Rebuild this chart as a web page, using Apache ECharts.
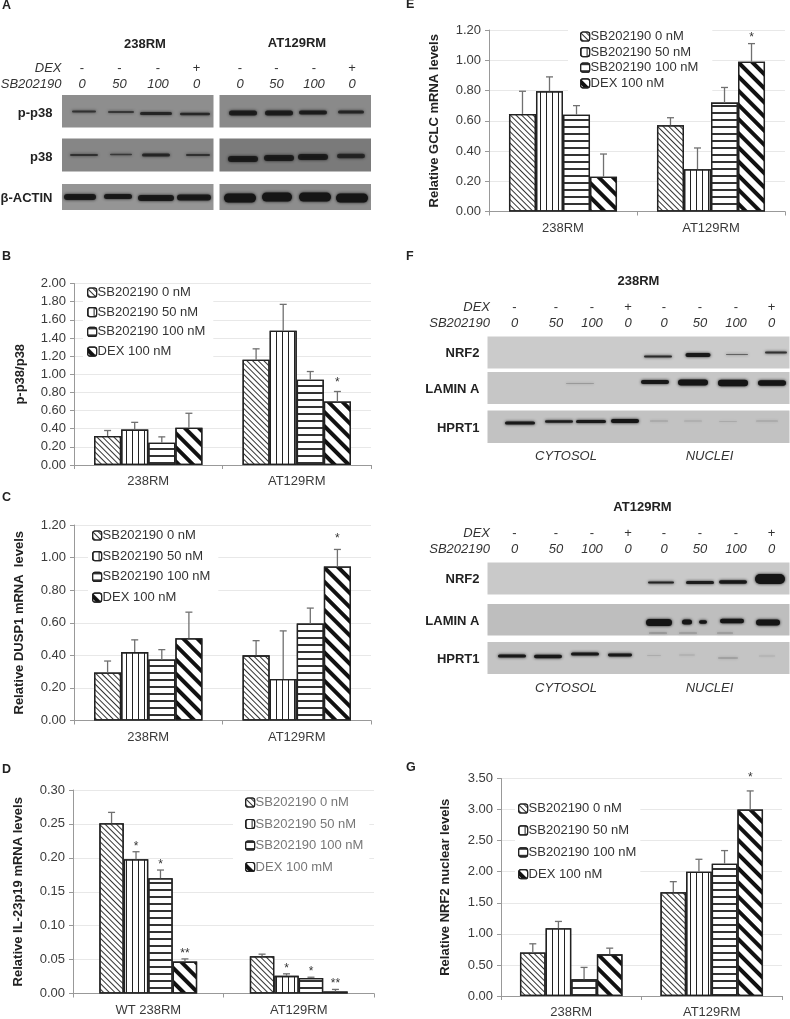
<!DOCTYPE html>
<html><head><meta charset="utf-8">
<style>html,body{margin:0;padding:0;background:#fff}#c{width:790px;height:1019px}</style>
<script src="https://cdn.jsdelivr.net/npm/echarts@6/dist/echarts.min.js"></script>
</head><body><div id="c"></div>
<script>
// ---------- data ----------
const seriesNames = ['SB202190 0 nM','SB202190 50 nM','SB202190 100 nM','DEX 100 nM'];
const seriesNamesD = ['SB202190 0 nM','SB202190 50 nM','SB202190 100 nM','DEX 100 mM'];
const groups = ['238RM','AT129RM'];
const groupsD = ['WT 238RM','AT129RM'];

const pp38Sb0 = [0.32,1.16], pp38Sb50 = [0.39,1.48], pp38Sb100 = [0.245,0.94], pp38Dex = [0.41,0.70];
const pp38Sb0Top = [0.38,1.28], pp38Sb50Top = [0.47,1.77], pp38Sb100Top = [0.31,1.03], pp38DexTop = [0.57,0.81];

const duspSb0 = [0.295,0.40], duspSb50 = [0.42,0.255], duspSb100 = [0.375,0.595], duspDex = [0.505,0.945];
const duspSb0Top = [0.365,0.49], duspSb50Top = [0.495,0.55], duspSb100Top = [0.435,0.69], duspDexTop = [0.665,1.05];

const il23Sb0 = [0.251,0.055], il23Sb50 = [0.198,0.026], il23Sb100 = [0.170,0.023], il23Dex = [0.047,0.003];
const il23Sb0Top = [0.267,0.058], il23Sb50Top = [0.209,0.029], il23Sb100Top = [0.182,0.024], il23DexTop = [0.051,0.006];

const gclcSb0 = [0.645,0.57], gclcSb50 = [0.795,0.28], gclcSb100 = [0.64,0.72], gclcDex = [0.23,0.99];
const gclcSb0Top = [0.795,0.62], gclcSb50Top = [0.89,0.42], gclcSb100Top = [0.70,0.82], gclcDexTop = [0.38,1.11];

const nrf2Sb0 = [0.70,1.67], nrf2Sb50 = [1.09,2.00], nrf2Sb100 = [0.27,2.13], nrf2Dex = [0.67,3.00];
const nrf2Sb0Top = [0.84,1.84], nrf2Sb50Top = [1.20,2.20], nrf2Sb100Top = [0.46,2.34], nrf2DexTop = [0.77,3.30];

const starsB = [['','','',''],['','','','*']];
const starsC = [['','','',''],['','','','*']];
const starsD = [['','*','*','**'],['','*','*','**']];
const starsE = [['','','',''],['','','','*']];
const starsG = [['','','',''],['','','','*']];

const dexRow = ['-','-','-','+','-','-','-','+'];
const sbRow = ['0','50','100','0','0','50','100','0'];

// ---------- styling helpers ----------
const FONT = '"Liberation Sans", Arial, sans-serif';
const decals = [
  {symbol:'rect',symbolSize:1,dashArrayX:[1,0],dashArrayY:[1,3],rotation:Math.PI/4,color:'#333'},
  {symbol:'rect',symbolSize:1,dashArrayX:[1,5],dashArrayY:[1,0],color:'#222'},
  {symbol:'rect',symbolSize:1,dashArrayX:[1,0],dashArrayY:[2,5],color:'#333'},
  {symbol:'rect',symbolSize:1,dashArrayX:[1,0],dashArrayY:[4,6],rotation:Math.PI/4,color:'#111'}
];

const panels = [
 {grid:{left:74,top:283.5,width:297,height:181.5},max:2,interval:0.2,gap:'27%',gapN:0.27,name:'p-p38/p38',nameGap:47,
  cats:groups,names:seriesNames,vals:[pp38Sb0,pp38Sb50,pp38Sb100,pp38Dex],tops:[pp38Sb0Top,pp38Sb50Top,pp38Sb100Top,pp38DexTop],
  stars:starsB,starOff:9,legend:{left:83,top:284,gap:6.7,pad:[2,8,2,4]},legendColor:'#333'},
 {grid:{left:74,top:525,width:297,height:195.5},max:1.2,interval:0.2,gap:'27%',gapN:0.27,name:'Relative DUSP1 mRNA  levels',nameGap:48,
  cats:groups,names:seriesNames,vals:[duspSb0,duspSb50,duspSb100,duspDex],tops:[duspSb0Top,duspSb50Top,duspSb100Top,duspDexTop],
  stars:starsC,starOff:11,legend:{left:88,top:527,gap:7.7,pad:[2,8,6,4]},legendColor:'#333'},
 {grid:{left:73,top:790,width:301,height:203.5},max:0.3,interval:0.05,gap:'35%',gapN:0.35,name:'Relative IL-23p19 mRNA levels',nameGap:48.5,
  cats:groupsD,names:seriesNamesD,vals:[il23Sb0,il23Sb50,il23Sb100,il23Dex],tops:[il23Sb0Top,il23Sb50Top,il23Sb100Top,il23DexTop],
  stars:starsD,starOff:5.5,legend:{left:233,top:794,gap:8.5,pad:[2,6,4,12]},legendColor:'#777'},
 {grid:{left:489,top:30,width:296,height:181.5},max:1.2,interval:0.2,gap:'27%',gapN:0.27,name:'Relative GCLC mRNA levels',nameGap:48,
  cats:groups,names:seriesNames,vals:[gclcSb0,gclcSb50,gclcSb100,gclcDex],tops:[gclcSb0Top,gclcSb50Top,gclcSb100Top,gclcDexTop],
  stars:starsE,starOff:6,legend:{left:568,top:28,gap:2.6,pad:[2,14,4,12]},legendColor:'#333'},
 {grid:{left:501,top:778.5,width:281,height:220},max:3.5,interval:0.5,gap:'27%',gapN:0.27,name:'Relative NRF2 nuclear levels',nameGap:49,
  cats:groups,names:seriesNames,vals:[nrf2Sb0,nrf2Sb50,nrf2Sb100,nrf2Dex],tops:[nrf2Sb0Top,nrf2Sb50Top,nrf2Sb100Top,nrf2DexTop],
  stars:starsG,starOff:13,legend:{left:515,top:800,gap:8.9,pad:[2,4,6,3]},legendColor:'#333'}
];

const option = {animation:false,backgroundColor:'#fff',textStyle:{fontFamily:FONT},
  grid:[],xAxis:[],yAxis:[],series:[],legend:[],graphic:{elements:[]}};

panels.forEach((p,pi)=>{
  option.grid.push(Object.assign({containLabel:false},p.grid));
  option.xAxis.push({type:'category',gridIndex:pi,data:p.cats,
    axisLine:{lineStyle:{color:'#999',width:1}},axisTick:{show:true,length:4,alignWithLabel:false,lineStyle:{color:'#999'}},
    axisLabel:{color:'#3a3a3a',fontSize:13,margin:10,fontFamily:FONT},splitLine:{show:false}});
  option.yAxis.push({type:'value',gridIndex:pi,min:0,max:p.max,interval:p.interval,
    name:p.name,nameLocation:'middle',nameGap:p.nameGap,nameRotate:90,
    nameTextStyle:{color:'#222',fontWeight:'bold',fontSize:13,fontFamily:FONT},
    axisLine:{show:true,lineStyle:{color:'#999'}},axisTick:{show:true,length:4,lineStyle:{color:'#999'}},
    axisLabel:{color:'#3a3a3a',fontSize:13,margin:8,fontFamily:FONT,formatter:v=>v.toFixed(2)},
    splitLine:{show:true,lineStyle:{color:'#e8e8e8',width:1}}});
  p.vals.forEach((vals,s)=>{
    option.series.push({type:'bar',name:p.names[s],xAxisIndex:pi,yAxisIndex:pi,data:vals,barGap:0,barCategoryGap:p.gap,
      z:3,itemStyle:{color:'#fff',borderColor:'#222',borderWidth:1.3,decal:decals[s]},emphasis:{disabled:true}});
  });
  const errData=[];
  p.vals.forEach((vals,s)=>vals.forEach((v,c)=>errData.push([c,s,v,p.tops[s][c],p.stars[c][s]])));
  option.series.push({type:'custom',xAxisIndex:pi,yAxisIndex:pi,z:4,silent:true,clip:false,data:errData,
    encode:{x:0,y:3},
    renderItem:(params,api)=>{
      const c=api.value(0),s=api.value(1),v=api.value(2),t=api.value(3);
      const star=errData[params.dataIndex][4];
      const band=api.size([1,0])[0];
      const bw=band*(1-p.gapN)/4;
      const x=api.coord([c,0])[0]+(s-1.5)*bw;
      const y0=api.coord([c,v])[1],y1=api.coord([c,t])[1];
      const st={stroke:'#707070',lineWidth:1.3};
      const kids=[
        {type:'line',shape:{x1:x,y1:y0,x2:x,y2:y1},style:st},
        {type:'line',shape:{x1:x-3.5,y1:y1,x2:x+3.5,y2:y1},style:st}];
      if(star) kids.push({type:'text',style:{text:star,x:x,y:y1-p.starOff,textAlign:'center',textVerticalAlign:'middle',font:'12px '+FONT,fill:'#333'}});
      return {type:'group',children:kids};
    }});
  option.legend.push({orient:'vertical',left:p.legend.left,top:p.legend.top,padding:p.legend.pad,itemGap:p.legend.gap,
    itemWidth:9,itemHeight:9,backgroundColor:'#fff',data:p.names,selectedMode:false,z:5,
    textStyle:{color:p.legendColor,fontSize:13,fontFamily:FONT,padding:[0,0,0,-4]},
    itemStyle:{borderColor:'#222',borderWidth:1.2}});
});

// ---------- blots and text (image panels of the figure) ----------
const G = option.graphic.elements;
function rect(x,y,w,h,fill){G.push({type:'rect',silent:true,z:1,shape:{x,y,width:w,height:h},style:{fill}});}
function band(cx,cy,rx,ry,op){G.push({type:'rect',silent:true,z:2,shape:{x:cx-rx,y:cy-ry,width:2*rx,height:2*ry,r:ry},style:{fill:'#151515',opacity:op,shadowBlur:3,shadowColor:'#151515'}});}
function txt(text,x,y,align,font,fill){G.push({type:'text',silent:true,z:6,style:{text,x,y,textAlign:align,textVerticalAlign:'middle',font:font+' '+FONT,fill:fill||'#222'}});}

[['A',2,6],['B',2,257],['C',2,498],['D',2,770],['E',406,5],['F',406,257],['G',406,768]].forEach(a=>txt(a[0],a[1],a[2],'left','bold 12.5px','#222'));

// Panel A
txt('238RM',145,44,'center','bold 13px');txt('AT129RM',297,43,'center','bold 13px');
txt('DEX',61.5,68,'right','italic 13px','#333');txt('SB202190',61.5,84,'right','italic 13px','#333');
[82,119.5,158,196.5,240,276.5,314,352].forEach((x,i)=>{txt(dexRow[i],x,68,'center','13px','#333');txt(sbRow[i],x,84,'center','italic 13px','#333');});
txt('p-p38',52.5,113,'right','bold 13px');txt('p38',52.5,157,'right','bold 13px');txt('β-ACTIN',52.5,198,'right','bold 13px');
rect(62,95,151.5,32.5,'#8e8e8e');rect(219.5,95,151.5,32.5,'#8a8a8a');
rect(62,138.5,151.5,33,'#868686');rect(219.5,138.5,151.5,33,'#7a7a7a');
rect(62,184,151.5,26,'#959595');rect(219.5,184,151.5,26,'#8d8d8d');
[[84,111.5,12,1,.65],[121,112,13,1,.6],[156,113.5,16,1.5,.75],[195,114,15,1.3,.75]].forEach(b=>band(...b));
[[243,113,14,2.5,.85],[279,113,14,2.5,.85],[313,112.5,14,2,.85],[351,112,13,1.5,.75]].forEach(b=>band(...b));
[[84,155,14,1.1,.65],[121,154.5,11,.8,.6],[156,155,14,1.5,.75],[198,155,12,.9,.65]].forEach(b=>band(...b));
[[243,159,15,3,.85],[279,158,15,3,.85],[313,157,15,3,.85],[351,156,14,2.2,.7]].forEach(b=>band(...b));
[[80,197,16,3,.9],[118,196.5,14,2.5,.9],[156,198,18,3,.9],[194,197.5,17,3,.9]].forEach(b=>band(...b));
[[240,198,16,4.5,1],[277,197,15,4.5,1],[315,197,16,4.5,1],[352,198,16,4.5,1]].forEach(b=>band(...b));

// Panel F
const laneX=[514.5,556,592,628,664,700,736,771.5];
function lanes(yD,yS){txt('DEX',490,yD,'right','italic 13px','#333');txt('SB202190',490,yS,'right','italic 13px','#333');
  laneX.forEach((x,i)=>{txt(dexRow[i],x,yD,'center','13px','#333');txt(sbRow[i],x,yS,'center','italic 13px','#333');});}
txt('238RM',638.5,281,'center','bold 13px');lanes(307,323);
txt('NRF2',479.5,353.5,'right','bold 13px');txt('LAMIN A',479.5,389,'right','bold 13px');txt('HPRT1',479.5,428,'right','bold 13px');
rect(487.5,336.5,302,32,'#cbcbcb');rect(487.5,372,302,32,'#c6c6c6');rect(487.5,410.5,302,32.5,'#c2c2c2');
[[658,356.5,14,1,.8],[698,355,12.5,2,.95],[737,354.5,11,.5,.5],[776,352.5,11,1,.75]].forEach(b=>band(...b));
[[580,383.5,14,.5,.2],[655,382,14,2,.95],[693,382.5,15,3,1],[733,383,15,3.2,1],[772,383,14,2.8,1]].forEach(b=>band(...b));
[[520,423,15,1.6,.95],[559,421.5,14,1.3,.9],[591,421.5,15,1.6,.95],[625,421,14,2,1],[659,421,9,.5,.18],[693,421,9,.5,.13],[728,421.5,9,.4,.1],[767,421,11,.5,.16]].forEach(b=>band(...b));
txt('CYTOSOL',566,456,'center','italic 13px','#333');txt('NUCLEI',709.5,456,'center','italic 13px','#333');

txt('AT129RM',642.5,507.5,'center','bold 13px');lanes(533.5,549.5);
txt('NRF2',479.5,579.5,'right','bold 13px');txt('LAMIN A',479.5,621,'right','bold 13px');txt('HPRT1',479.5,659,'right','bold 13px');
rect(487.5,562.5,302,32,'#c9c9c9');rect(487.5,604,302,31.5,'#bebebe');rect(487.5,642,302,32,'#c4c4c4');
[[661,582.5,13,1,.85],[700,582.5,14,1.5,.9],[733,582,14,1.8,.95],[770,579,15,5,1]].forEach(b=>band(...b));
[[659,622.5,13,3.5,1],[687,622,5,2.5,1],[703,622,4,1.8,1],[732,621,12,2.3,1],[768,622.5,12,3,1],
 [658,633,9,.6,.3],[688,633,9,.5,.25],[725,633,8,.5,.25]].forEach(b=>band(...b));
[[512,656,14,1.6,.95],[548,656.5,14,1.8,.95],[585,654,14,1.6,.95],[620,655,12,1.4,.95],[654,655.5,7,.4,.1],[687,655,8,.4,.12],[728,658,10,.7,.18],[767,656,8,.4,.1]].forEach(b=>band(...b));
txt('CYTOSOL',566,688.5,'center','italic 13px','#333');txt('NUCLEI',709.5,688.5,'center','italic 13px','#333');

const chart = echarts.init(document.getElementById('c'),null,{renderer:'canvas'});
chart.setOption(option);
</script></body></html>
